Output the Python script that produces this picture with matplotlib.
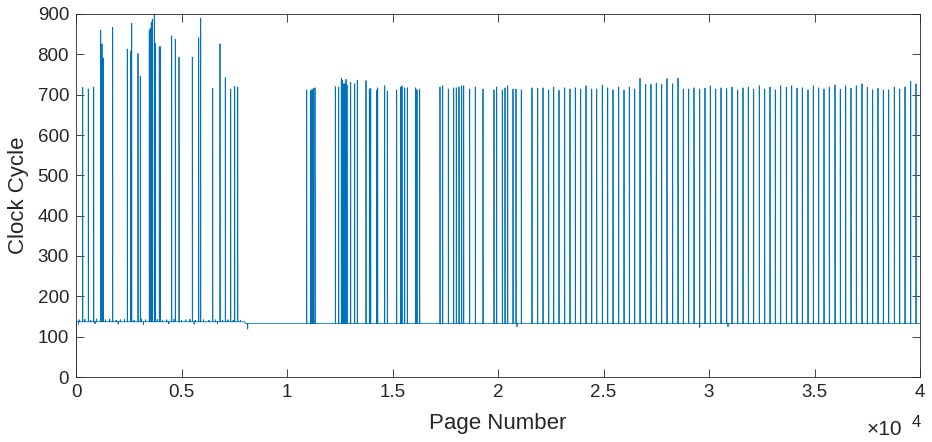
import numpy as np
import matplotlib
matplotlib.use("Agg")
import matplotlib.pyplot as plt

plt.rcParams['font.family'] = ['Liberation Sans', 'DejaVu Sans']

# number of pages on the x axis
n_pages = 40000

# baseline levels (start page, end page, clock cycles)
base_start = [0, 8000]
base_end = [8000, 40000]
base_level = [137, 133]

# small bumps and dips on the noisy early baseline
jitter_pages = [150, 420, 700, 980, 1400, 1600, 1900, 2100, 2300, 2750, 3100, 3300,
                3850, 4100, 4300, 4650, 5000, 5200, 5400, 5650, 6050, 6300, 6600,
                6950, 7200, 7450, 7800, 120, 900, 2000, 3200, 4400, 5600, 6700]
jitter_values = [142, 143, 141, 144, 142, 143, 141, 142, 143, 141, 144, 142,
                 143, 141, 142, 143, 141, 142, 143, 141, 142, 141, 142,
                 141, 142, 141, 140, 131, 132, 131, 130, 132, 131, 132]

# short dips in the baseline
dip_pages = [1, 8137, 20900, 29560, 30900]
dip_values = [0, 119, 125, 123, 125]

# spikes
spike_pages = [318, 583, 839, 1171, 1232, 1294, 1739, 2431, 2592, 2640, 2938, 3047,
               3474, 3521, 3545, 3569, 3616, 3711, 3758, 3948, 3995, 4535, 4706, 4882,
               5512, 5815, 5910, 6479, 6825, 7076, 7332, 7521, 7664,
               10934, 11123, 11185, 11248, 11327, 12290, 12450, 12574, 12621, 12669,
               12735, 12796, 12844, 13018, 13208, 13332, 13744, 13902, 13967, 14251,
               14298, 14630, 14754, 15199, 15389, 15450, 15578, 15701, 16100, 16161,
               16289, 17251, 17379, 17645, 17900, 18023, 18152, 18280, 18374, 18658,
               18924, 19289, 19810, 19938, 20204, 20332, 20460, 20711, 20853, 21104,
               21611, 21881, 22133, 22403, 22640, 22891, 23161, 23412, 23664, 23919,
               24171, 24441, 24678, 24943, 25199, 25450, 25720, 25972, 26223, 26479,
               26730, 27000, 27251, 27502, 27758, 28009, 28279, 28531, 28782, 29038,
               29289, 29559, 29810, 30062, 30318, 30569, 30839, 31090, 31360, 31611,
               31863, 32118, 32384, 32640, 32891, 33142, 33398, 33664, 33919, 34171,
               34422, 34692, 34943, 35199, 35450, 35701, 35972, 36223, 36479, 36730,
               36981, 37251, 37502, 37758, 38009, 38261, 38517, 38782, 39038, 39289,
               39559, 39810]
spike_heights = [718, 714, 719, 860, 826, 791, 867, 813, 807, 877, 802, 745,
                 860, 865, 770, 879, 887, 899, 827, 819, 819, 846, 837, 793,
                 793, 841, 890, 716, 826, 742, 713, 721, 719,
                 712, 710, 713, 716, 717, 720, 719, 741, 736, 727,
                 727, 738, 724, 731, 727, 736, 735, 714, 716, 711,
                 717, 722, 709, 712, 718, 722, 717, 717, 717, 712,
                 714, 719, 722, 714, 717, 717, 719, 722, 722, 714,
                 719, 714, 712, 719, 712, 717, 722, 714, 714, 712,
                 717, 716, 717, 712, 719, 711, 717, 714, 717, 714,
                 722, 714, 714, 724, 717, 712, 719, 711, 719, 714,
                 741, 726, 726, 729, 726, 740, 727, 741, 714, 714,
                 717, 714, 716, 722, 714, 717, 715, 719, 712, 717,
                 719, 713, 722, 714, 719, 712, 722, 718, 722, 716,
                 717, 712, 722, 717, 714, 719, 724, 713, 722, 716,
                 722, 727, 718, 712, 716, 712, 712, 719, 714, 719,
                 733, 727]

pages = np.arange(1, n_pages + 1)
cycles = np.zeros(n_pages)
for s, e, v in zip(base_start, base_end, base_level):
    cycles[s:e] = v
for p, v in zip(jitter_pages, jitter_values):
    cycles[p - 1] = v
for p, v in zip(dip_pages, dip_values):
    cycles[p - 1] = v
for p, h in zip(spike_pages, spike_heights):
    cycles[p - 1] = h

fig = plt.figure(figsize=(9.32, 4.42), dpi=100)
ax = fig.add_axes([76 / 932, 65 / 442, 844 / 932, 363 / 442])
ax.plot(pages, cycles, color='#0072BD', linewidth=0.6)

ax.set_xlim(0, 40000)
ax.set_ylim(0, 900)
ax.set_xticks(np.arange(0, 40001, 5000))
ax.set_xticklabels(['0', '0.5', '1', '1.5', '2', '2.5', '3', '3.5', '4'])
ax.set_yticks(np.arange(0, 901, 100))
ax.tick_params(direction='in', length=6, width=0.6, top=True, right=True,
               labelsize=13.5, colors='#262626', pad=5)
for sp in ax.spines.values():
    sp.set_color('#262626')
    sp.set_linewidth(0.6)

ax.set_xlabel('Page Number', fontsize=16, color='#262626', labelpad=9)
ax.set_ylabel('Clock Cycle', fontsize=16, color='#262626', labelpad=6)

fig.text(867 / 932, 7 / 442, '\u00d710', fontsize=15, color='#262626',
         ha='left', va='baseline')
fig.text(912 / 932, 15 / 442, '4', fontsize=12, color='#262626',
         ha='left', va='baseline')

fig.savefig('out.png', dpi=100)
